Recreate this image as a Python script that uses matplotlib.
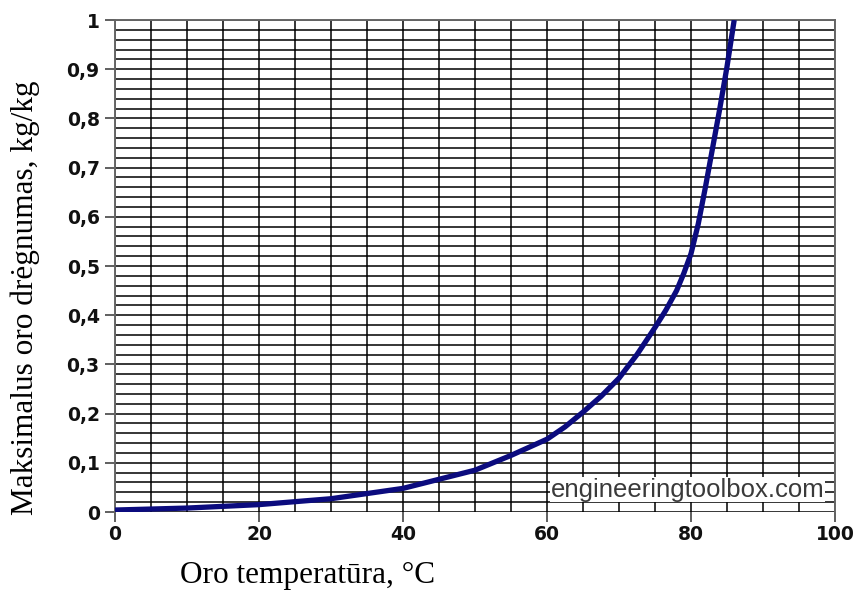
import matplotlib
matplotlib.use("Agg")
import matplotlib.pyplot as plt
import numpy as np

# Data
temperature_c = [0, 10, 20, 30, 40, 50, 55, 60, 62.5, 65, 67.5, 70, 72.5, 75, 76.5,
                 78, 79, 80, 81, 82, 83, 84, 85, 86]
humidity_kgkg = [0.004, 0.008, 0.015, 0.027, 0.048, 0.085, 0.115, 0.148, 0.173, 0.203,
                 0.235, 0.272, 0.32, 0.375, 0.41, 0.45, 0.485, 0.525, 0.585, 0.66,
                 0.74, 0.82, 0.905, 1.0]

x_ticks = [0, 20, 40, 60, 80, 100]
y_ticks = [0, 0.1, 0.2, 0.3, 0.4, 0.5, 0.6, 0.7, 0.8, 0.9, 1.0]
y_tick_labels = ["0", "0,1", "0,2", "0,3", "0,4", "0,5", "0,6", "0,7", "0,8", "0,9", "1"]

xlabel = "Oro temperatūra, °C"
ylabel = "Maksimalus oro drėgnumas, kg/kg"
watermark = "engineeringtoolbox.com"

fig = plt.figure(figsize=(8.6, 5.92), dpi=100)
ax = fig.add_axes([115/860, 1-512/592, (835-115)/860, (512-20)/592])

# grid
ax.set_xlim(0, 100)
ax.set_ylim(0, 1)
ax.set_xticks(np.arange(0, 101, 5), minor=True)
ax.set_yticks(np.arange(0, 1.001, 0.02), minor=True)
ax.grid(which="both", color="black", linewidth=1.1, zorder=1)
ax.set_axisbelow(True)

ax.plot(temperature_c, humidity_kgkg, color="#0b0b7e", linewidth=3.8,
        solid_capstyle="butt", solid_joinstyle="round", zorder=3)

ax.set_xticks(x_ticks)
ax.set_xticklabels([str(t) for t in x_ticks])
ax.set_yticks(y_ticks)
ax.set_yticklabels(y_tick_labels)
ax.tick_params(axis="both", which="major", direction="out", length=7, width=1.2,
               color="#444444", pad=4)
ax.tick_params(axis="x", which="major", pad=2)
ax.tick_params(axis="x", which="minor", direction="out", length=0)
ax.tick_params(axis="y", which="minor", length=0)
for lab in ax.get_xticklabels() + ax.get_yticklabels():
    lab.set_fontfamily("DejaVu Sans")
    lab.set_fontweight("bold")
    lab.set_fontsize(13.5)
    lab.set_color("#111111")

for name, sp in ax.spines.items():
    sp.set_color("#666666")
    sp.set_linewidth(1.4)
ax.spines["bottom"].set_visible(False)

ax.text(0.985, 0.045, watermark, transform=ax.transAxes, ha="right", va="center",
        fontsize=18.5, fontfamily="Liberation Sans", color="#3a3a3a",
        bbox=dict(facecolor="white", edgecolor="none", pad=0.3), zorder=4)

fig.text(308/860, 1-576/592, xlabel, ha="center", va="center",
         fontsize=22.5, fontfamily="Liberation Serif", color="black")
fig.text(25/860, 1-298/592, ylabel, ha="center", va="center", rotation=90,
         fontsize=22.5, fontfamily="Liberation Serif", color="black")

fig.savefig("out.png", dpi=100, facecolor="white")
